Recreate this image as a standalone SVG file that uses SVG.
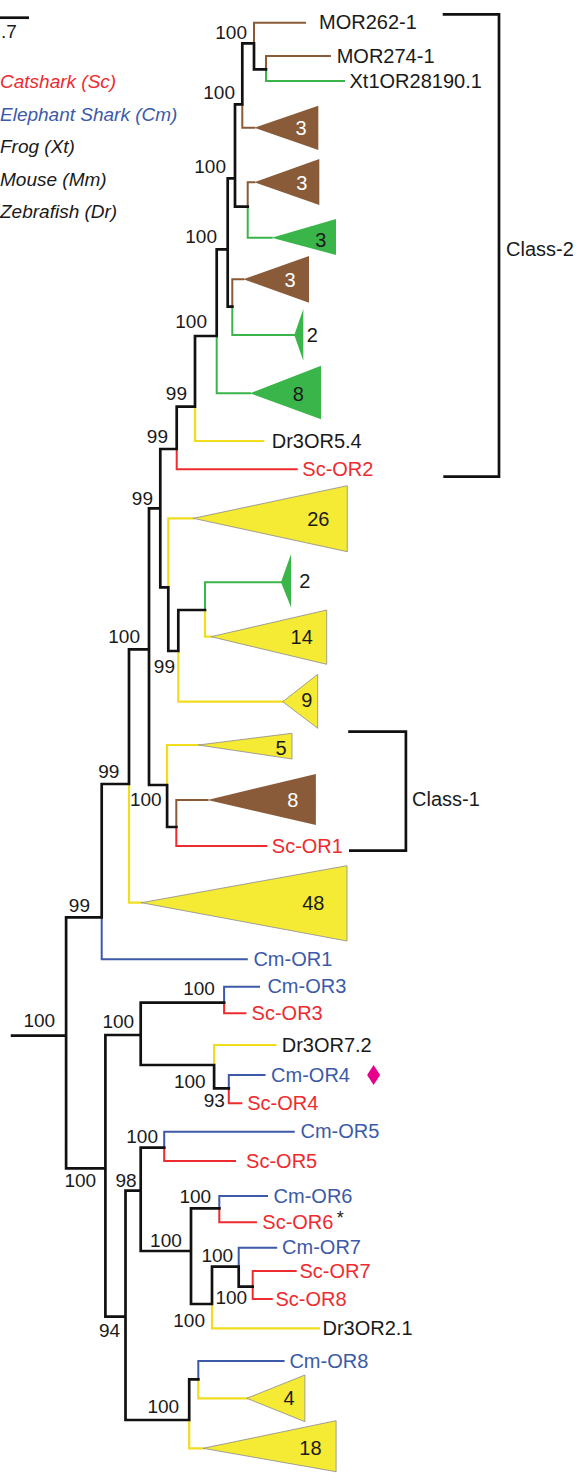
<svg xmlns="http://www.w3.org/2000/svg" width="576" height="1473" viewBox="0 0 576 1473">
<style>
text{font-family:"Liberation Sans",Arial,sans-serif;font-size:20px;fill:#1a1a1a}
.lg{font-style:italic;font-size:19px}
.bs{text-anchor:end;font-size:19px}
.ct{text-anchor:middle}
.w{fill:#ffffff}
.rt{fill:#ee2b2f}
.bt{fill:#3c5aa8}
path{fill:none;stroke-linecap:square;stroke-linejoin:miter}
.k{stroke:#111;stroke-width:2.7}
.b{stroke:#8b5a36;stroke-width:2}
.g{stroke:#3ab54a;stroke-width:2}
.y{stroke:#f2dc1e;stroke-width:2.2}
.r{stroke:#ee2b2f;stroke-width:2}
.u{stroke:#3c5aa8;stroke-width:2}
.tb{fill:#8a5b38}
.tg{fill:#3ab54a}
.ty{fill:#f5ea34;stroke:#8a8a8a;stroke-width:0.8}
.br{fill:none;stroke:#111;stroke-width:2.7}
</style>
<g id="legend">
<path class="k" d="M0 17.7 H29" style="stroke-linecap:butt"/>
<text x="1" y="38" style="font-size:19px">.7</text>
<text class="lg rt" x="0" y="88">Catshark (Sc)</text>
<text class="lg bt" x="0" y="120.5">Elephant Shark (Cm)</text>
<text class="lg" x="0" y="153">Frog (Xt)</text>
<text class="lg" x="0" y="185.5">Mouse (Mm)</text>
<text class="lg" x="0" y="218">Zebrafish (Dr)</text>
</g>
<g id="connectors">
<path class="b" d="M232.3 306.7 V279.3 H243.3 M247.7 206.7 V182.3 H254.3 M242.3 104.3 V127.7 H254.3 M254 43.3 V22.7 H305 M266 69.3 V56 H330 M176.3 827 V800 H207.5"/>
<path class="g" d="M232.3 306.7 V335 H294.3 M216.7 336 V393.3 H250 M247.7 206.7 V237.7 H271.7 M266 69.3 V81 H344 M205 610 V582.3 H281"/>
<path class="y" d="M129 784 V902.7 H141.4 M195 406.7 V441 H263.3 M168.3 587.3 V518.3 H193.3 M178.3 651 V701.7 H282.7 M205 610 V636.7 H211 M167.1 785 V745 H198.3 M214.1 1065 V1045 H275.5 M212 1304 V1328.3 H318.8 M189.2 1420 V1448.3 H203.1 M198.3 1379.3 V1398.3 H246.8"/>
<path class="r" d="M176.7 449 V469.3 H296.7 M176.3 827 V846 H266.3 M224.1 1002.7 V1013.3 H245.4 M228.8 1088.3 V1103.3 H241.3 M164.2 1147.7 V1161 H235 M219.3 1208.3 V1222.3 H256 M252.7 1286.7 V1271 H295.7 M252.7 1286.7 V1299 H271.8"/>
<path class="u" d="M101.7 917.3 V959.3 H246.8 M224.1 1002.7 V986.7 H259 M228.8 1088.3 V1075 H264.5 M164.2 1147.7 V1131.7 H293.8 M219.3 1208.3 V1196 H267 M238.7 1266.7 V1247.7 H276.2 M198.3 1379.3 V1361 H283.6"/>
<path class="k" d="M12.1 1035.7 H66.1 M66.1 1035.7 V917.3 H101.7 M66.1 1035.7 V1168.3 H105.4 M101.7 917.3 V784 H129 M129 784 V649.3 H149 M149 649.3 V508.3 H160.3 M149 649.3 V785 H167.1 M160.3 508.3 V449 H176.7 M160.3 508.3 V587.3 H168.3 M176.7 449 V406.7 H195 M195 406.7 V336 H216.7 M216.7 336 V249.3 H227.7 M227.7 249.3 V178.3 H235 M227.7 249.3 V306.7 H232.3 M235 178.3 V104.3 H242.3 M235 178.3 V206.7 H247.7 M242.3 104.3 V43.3 H254 M254 43.3 V69.3 H266 M168.3 587.3 V651 H178.3 M178.3 651 V610 H205 M167.1 785 V827 H176.3 M105.4 1168.3 V1035 H140.7 M105.4 1168.3 V1316.7 H125.5 M140.7 1035 V1002.7 H224.1 M140.7 1035 V1065 H214.1 M214.1 1065 V1088.3 H228.8 M125.5 1316.7 V1190.7 H140.7 M125.5 1316.7 V1420 H189.2 M140.7 1190.7 V1147.7 H164.2 M140.7 1190.7 V1251 H191 M191 1251 V1208.3 H219.3 M191 1251 V1304 H212 M212 1304 V1266.7 H238.7 M238.7 1266.7 V1286.7 H252.7 M189.2 1420 V1379.3 H198.3"/>
</g>
<g id="bootstrap">
<text class="bs" x="247" y="39">100</text>
<text class="bs" x="235" y="99">100</text>
<text class="bs" x="226" y="173">100</text>
<text class="bs" x="217" y="243.3">100</text>
<text class="bs" x="207" y="328">100</text>
<text class="bs" x="187" y="400">99</text>
<text class="bs" x="168" y="443.3">99</text>
<text class="bs" x="153" y="505">99</text>
<text class="bs" x="140" y="642.7">100</text>
<text class="bs" x="175" y="673.3">99</text>
<text class="bs" x="119.4" y="778">99</text>
<text class="bs" x="161.6" y="806">100</text>
<text class="bs" x="90" y="911.7">99</text>
<text class="bs" x="55.1" y="1026.7">100</text>
<text class="bs" x="134.1" y="1028.3">100</text>
<text class="bs" x="214.9" y="995">100</text>
<text class="bs" x="205.7" y="1088.3">100</text>
<text class="bs" x="224.8" y="1106.7">93</text>
<text class="bs" x="96.2" y="1186.7">100</text>
<text class="bs" x="158" y="1143.3">100</text>
<text class="bs" x="136.6" y="1186.7">98</text>
<text class="bs" x="211.2" y="1203.3">100</text>
<text class="bs" x="181.8" y="1246.7">100</text>
<text class="bs" x="233.2" y="1261.7">100</text>
<text class="bs" x="247.2" y="1304">100</text>
<text class="bs" x="205" y="1326.7">100</text>
<text class="bs" x="120.1" y="1336.7">94</text>
<text class="bs" x="179.2" y="1413.3">100</text>
</g>
<g id="leaf-MOR262-1"><text x="319" y="29.3">MOR262-1</text></g>
<g id="leaf-MOR274-1"><text x="336.7" y="62.7">MOR274-1</text></g>
<g id="leaf-Xt1OR28190.1"><text x="349.5" y="87.7">Xt1OR28190.1</text></g>
<g id="clade-brown-3a"><polygon class="tb" points="254.3,127.7 318.3,105.7 318.3,150"/><text class="ct w" x="301" y="135">3</text></g>
<g id="clade-brown-3b"><polygon class="tb" points="254.3,182.3 319.3,159 319.3,205"/><text class="ct w" x="301.7" y="190">3</text></g>
<g id="clade-green-3"><polygon class="tg" points="271.7,237.7 336,219 336,255"/><text class="ct" x="320.7" y="247">3</text></g>
<g id="clade-brown-3c"><polygon class="tb" points="243.3,279.3 309,256 309,302.7"/><text class="ct w" x="290" y="287">3</text></g>
<g id="clade-green-2a"><polygon class="tg" points="294.3,335 303.3,309 303.3,360.7"/><text x="306.7" y="341.7">2</text></g>
<g id="clade-green-8"><polygon class="tg" points="250,393.3 321,365.7 321,419.3"/><text class="ct" x="298.3" y="401">8</text></g>
<g id="leaf-Dr3OR5.4"><text x="271.7" y="447.5">Dr3OR5.4</text></g>
<g id="leaf-Sc-OR2"><text class="rt" x="302.3" y="475.8">Sc-OR2</text></g>
<g id="clade-yellow-26"><polygon class="ty" points="193.3,518.3 347.3,485.7 347.3,551.7"/><text class="ct" x="318.3" y="526">26</text></g>
<g id="clade-green-2b"><polygon class="tg" points="281,582.3 291,554 291,607.3"/><text x="299.3" y="588.3">2</text></g>
<g id="clade-yellow-14"><polygon class="ty" points="211,636.7 326.7,610 326.7,664.3"/><text class="ct" x="301.7" y="643.5">14</text></g>
<g id="clade-yellow-9"><polygon class="ty" points="282.7,701.7 317.7,674.3 317.7,728.3"/><text class="ct" x="306.7" y="707">9</text></g>
<g id="clade-yellow-5"><polygon class="ty" points="198.3,745 292,733.3 292,759"/><text class="ct" x="281" y="755">5</text></g>
<g id="clade-brown-8"><polygon class="tb" points="207.5,800 315.9,774 315.9,825"/><text class="ct w" x="292.7" y="807">8</text></g>
<g id="leaf-Sc-OR1"><text class="rt" x="271.8" y="852.5">Sc-OR1</text></g>
<g id="clade-yellow-48"><polygon class="ty" points="141.4,902.7 347,865.7 347,941"/><text class="ct" x="313.3" y="909.5">48</text></g>
<g id="leaf-Cm-OR1"><text class="bt" x="253.4" y="966">Cm-OR1</text></g>
<g id="leaf-Cm-OR3"><text class="bt" x="267.4" y="993">Cm-OR3</text></g>
<g id="leaf-Sc-OR3"><text class="rt" x="251.6" y="1020">Sc-OR3</text></g>
<g id="leaf-Dr3OR7.2"><text x="281.7" y="1051.5">Dr3OR7.2</text></g>
<g id="leaf-Cm-OR4"><text class="bt" x="271.1" y="1081.5">Cm-OR4</text><polygon fill="#e6008c" points="373.6,1065 380.1,1075 373.6,1085 367.1,1075"/></g>
<g id="leaf-Sc-OR4"><text class="rt" x="247.2" y="1110">Sc-OR4</text></g>
<g id="leaf-Cm-OR5"><text class="bt" x="300.5" y="1138">Cm-OR5</text></g>
<g id="leaf-Sc-OR5"><text class="rt" x="246.1" y="1167.5">Sc-OR5</text></g>
<g id="leaf-Cm-OR6"><text class="bt" x="273.6" y="1202.5">Cm-OR6</text></g>
<g id="leaf-Sc-OR6"><text class="rt" x="262.3" y="1229">Sc-OR6</text><text x="336.8" y="1223.5" style="font-size:18px">*</text></g>
<g id="leaf-Cm-OR7"><text class="bt" x="282.1" y="1254">Cm-OR7</text></g>
<g id="leaf-Sc-OR7"><text class="rt" x="299.4" y="1277.5">Sc-OR7</text></g>
<g id="leaf-Sc-OR8"><text class="rt" x="275.5" y="1305.5">Sc-OR8</text></g>
<g id="leaf-Dr3OR2.1"><text x="322.5" y="1335">Dr3OR2.1</text></g>
<g id="leaf-Cm-OR8"><text class="bt" x="289.4" y="1367.5">Cm-OR8</text></g>
<g id="clade-yellow-4"><polygon class="ty" points="246.8,1398.3 304.9,1375 304.9,1421.7"/><text class="ct" x="289" y="1405">4</text></g>
<g id="clade-yellow-18"><polygon class="ty" points="203.1,1448.3 336.1,1420.7 336.1,1471.7"/><text class="ct" x="310.4" y="1455">18</text></g>
<g id="bracket-class-2"><polyline class="br" points="442.7,14.3 499,14.3 499,476.7 443.3,476.7"/><text x="506" y="256">Class-2</text></g>
<g id="bracket-class-1"><polyline class="br" points="348.2,731.7 405.9,731.7 405.9,850.7 349,850.7"/><text x="412.1" y="806">Class-1</text></g>
</svg>
